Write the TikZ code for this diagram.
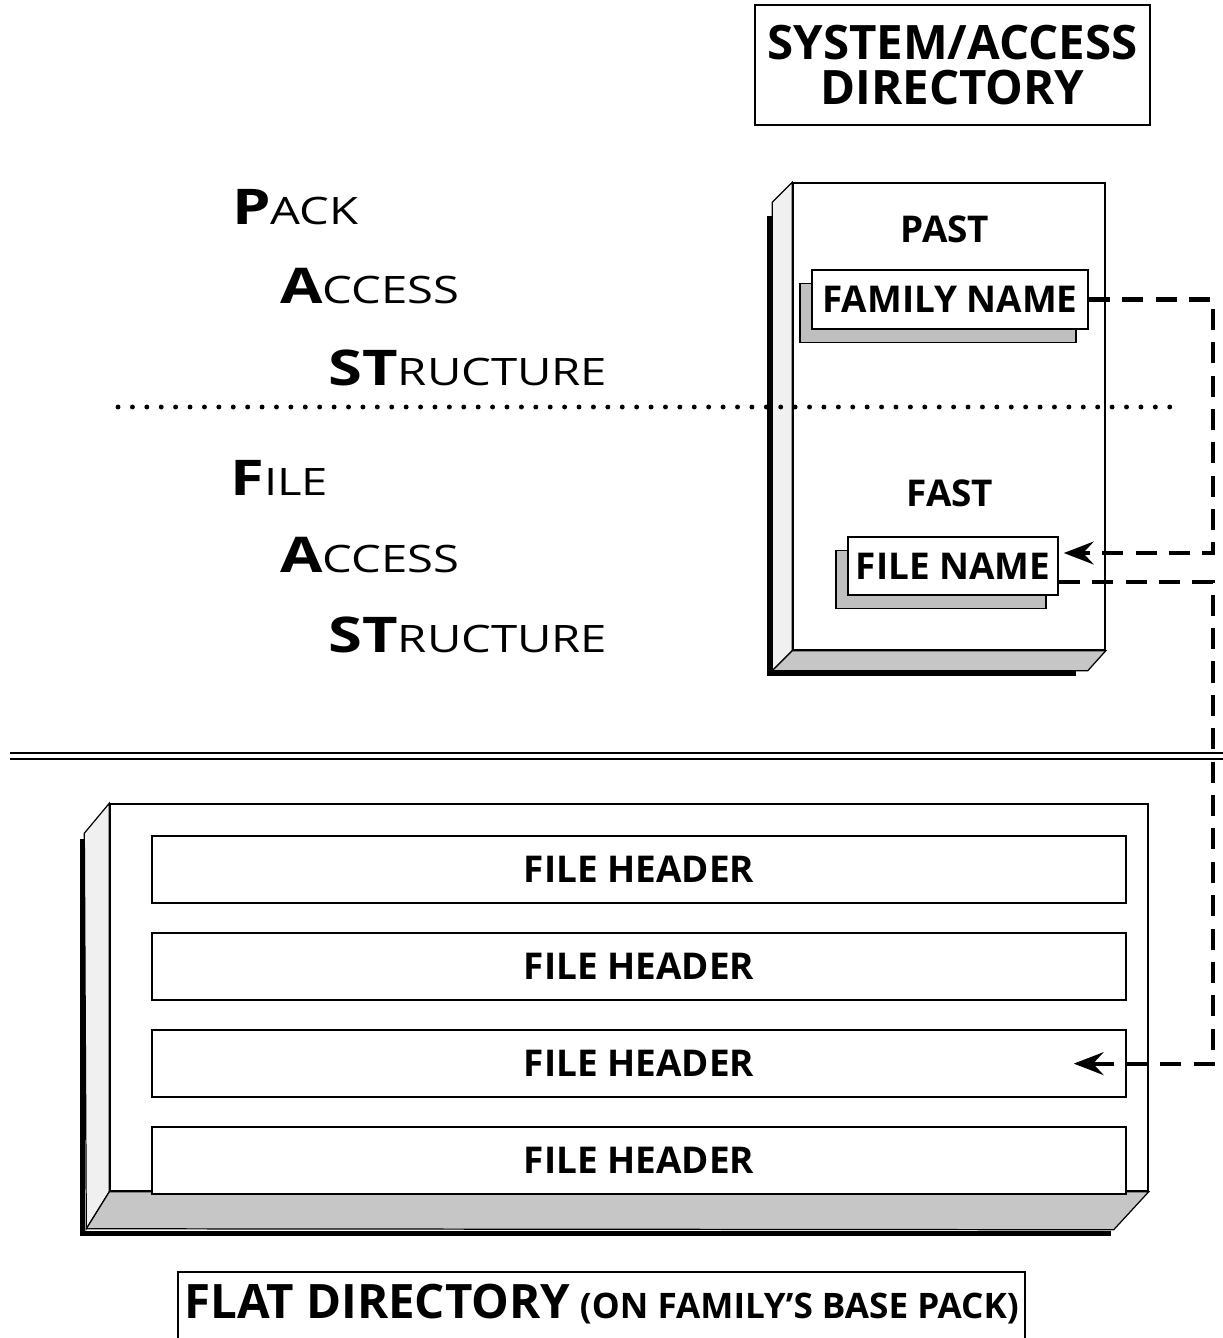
\documentclass[tikz,border=0pt]{standalone}
\usepackage{fontspec}
\setmainfont{Open Sans}
\newfontfamily\labfont[FakeStretch=1.25]{Open Sans}
\usetikzlibrary{arrows.meta, positioning, shadows}
\tikzset{
    box/.style = {draw, line width=0.9pt, fill=white, inner sep=0pt}, % plain framed box
    namebox/.style = {box, drop shadow={shadow xshift=-0.24cm, shadow yshift=-0.27cm, fill=gray!50, draw=black, opacity=1}},
    hdr/.style = {box, minimum width=19.48cm, minimum height=1.34cm},
    lab/.style = {anchor=base west, inner sep=0pt, font=\labfont},
    link/.style = {line width=2.3pt, dash pattern=on 12pt off 7pt},
    tip/.style = {-{Stealth[length=17pt, width=13pt, inset=6pt]}},
    edgeface/.style = {fill=gray!12, draw, line width=0.7pt},
    baseface/.style = {fill=gray!45, draw, line width=0.7pt},
    slabshadow/.style = {line width=2.8pt},
    dotline/.style = {line width=2.8pt, line cap=round, dash pattern=on 0pt off 8.2pt}
}
\newcommand{\capword}[2]{{\fontsize{28}{30}\selectfont\bfseries #1}{\fontsize{21.5}{25}\selectfont #2}}

\begin{document}
\begin{tikzpicture}
    [x=0.02cm, y=-0.02cm,
    every node/.style={font=\bfseries\fontsize{21}{25}\selectfont}]
    \useasboundingbox (0,0) rectangle (1223,1338);

    % title
    \node[box, minimum width=7.9cm, minimum height=2.4cm, align=center,
        font=\bfseries\fontsize{27}{26}\selectfont] (sysdir) at (952.5,65) {SYSTEM/ACCESS\\DIRECTORY};

    % left labels
    \node[lab] (pack) at (232,225) {\capword{P}{ACK}};
    \node[lab] (paccess) at (280,303) {\capword{A}{CCESS}};
    \node[lab] (pstruct) at (328,385) {\capword{ST}{RUCTURE}};
    \node[lab] (file) at (230,495) {\capword{F}{ILE}};
    \node[lab] (faccess) at (280,572) {\capword{A}{CCESS}};
    \node[lab] (fstruct) at (328,652) {\capword{ST}{RUCTURE}};

    % PAST / FAST slab
    \node[box, minimum width=6.24cm, minimum height=9.34cm] (past) at (949,416.5) {};
    \draw[edgeface] (past.north west) -- ++(-20,20) -- ([shift={(-20,20)}]past.south west) -- (past.south west) -- cycle;
    \draw[baseface] (past.south west) -- (past.south east) -- ++(-18,20) -- ([shift={(-20,20)}]past.south west) -- cycle;
    \draw[slabshadow] ([shift={(-23,34)}]past.north west) |- ([shift={(-30,23)}]past.south east);

    % divider
    \coordinate (dotL) at (118,407);
    \coordinate (dotR) at (1175,407);
    \draw[dotline] (dotL) -- (dotR);

    \node[anchor=base] (pastlbl) at (945,242) {PAST};
    \node[namebox, minimum width=5.52cm, minimum height=1.18cm] (famname) at (950,299.5) {FAMILY NAME};
    \node[anchor=base] (fastlbl) at (950,506) {FAST};
    \node[namebox, minimum width=4.2cm, minimum height=1.16cm] (filename) at (953,566) {FILE NAME};

    % double rule
    \coordinate (ruleL) at (10,756);
    \coordinate (ruleR) at (1223,756);
    \draw[line width=1.5pt, double distance=1.8pt] (ruleL) -- (ruleR);

    % flat directory slab
    \node[box, minimum width=20.76cm, minimum height=7.74cm] (flat) at (629,997.5) {};
    \draw[edgeface] (flat.north west) -- ++(-25,30) -- ([shift={(-23,37)}]flat.south west) -- (flat.south west) -- cycle;
    \draw[baseface] (flat.south west) -- (flat.south east) -- ++(-35,38) -- ([shift={(-23,37)}]flat.south west) -- cycle;
    \draw[slabshadow] ([shift={(-27,36)}]flat.north west) |- ([shift={(-38,42)}]flat.south east);

    \node[hdr] (hdrA) at (639,869.5) {FILE HEADER};
    \node[hdr, below=0.57cm of hdrA] (hdrB) {FILE HEADER};
    \node[hdr, below=0.57cm of hdrB] (hdrC) {FILE HEADER};
    \node[hdr, below=0.57cm of hdrC] (hdrD) {FILE HEADER};

    % links
    \coordinate (railA) at (1213,400);
    \coordinate (railB) at (1213,756);
    \draw[link, tip] (famname.east) -| (railA) |- ([xshift=0.1cm, yshift=0.26cm]filename.east);
    \draw[link, tip] ([yshift=-0.32cm]filename.east) -| (railB) |- ([xshift=-1.06cm]hdrC.east);

    % caption
    \node[draw, line width=0.9pt, anchor=base, minimum width=16.94cm, text height=0.7cm, text depth=1.2cm,
        inner ysep=0.22cm, inner xsep=0pt] (flatcap) at (601.5,1318)
        {{\fontsize{27}{30}\selectfont FLAT DIRECTORY} {\fontsize{20}{24}\selectfont (ON FAMILY'S BASE PACK)}};
\end{tikzpicture}
\end{document}
